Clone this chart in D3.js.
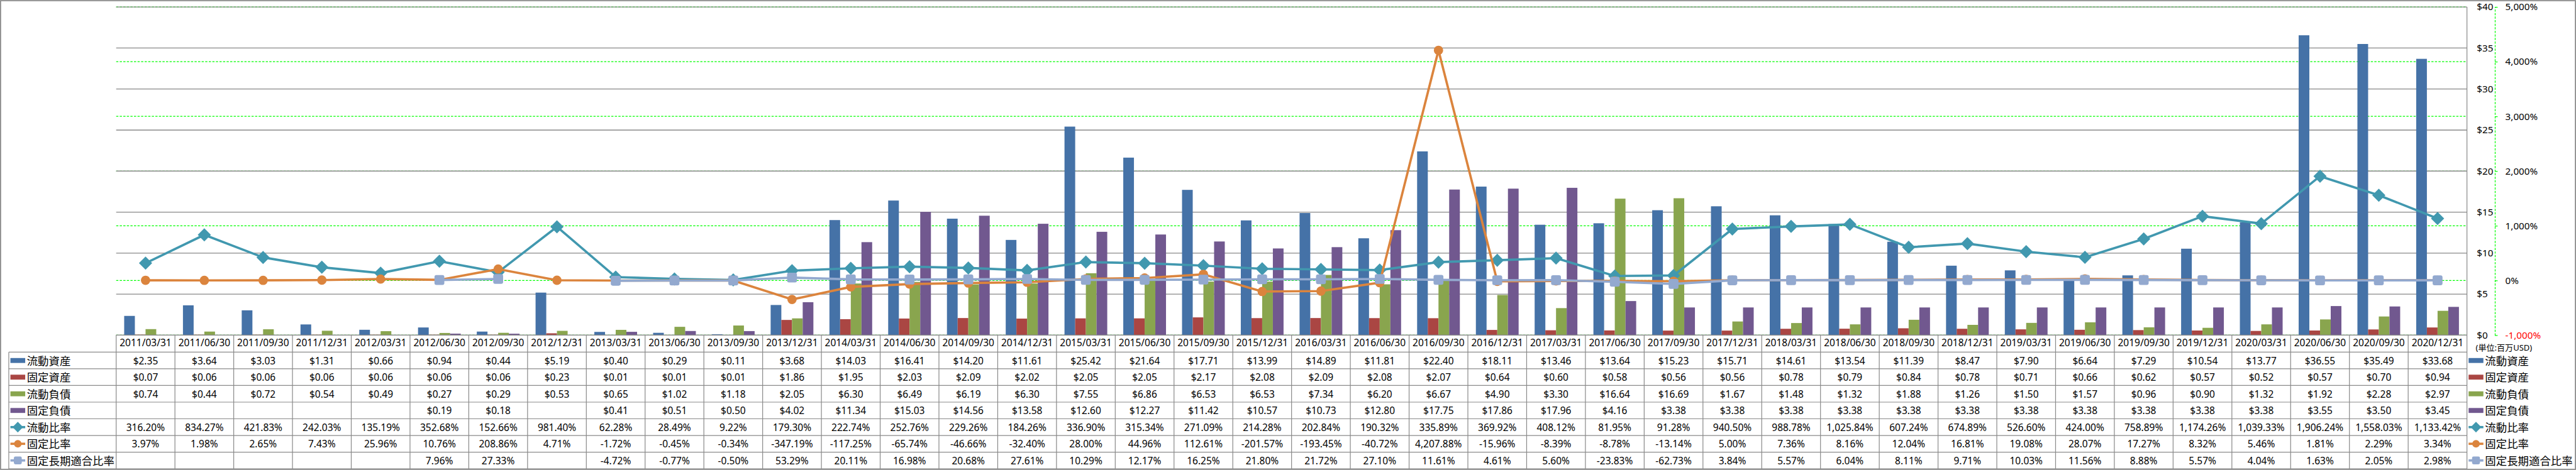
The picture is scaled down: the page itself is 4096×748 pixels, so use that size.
<!DOCTYPE html>
<html><head><meta charset="utf-8">
<script src="https://cdn.jsdelivr.net/npm/d3@7"></script>
<style>html,body{margin:0;padding:0;background:#fff;overflow:hidden}</style>
</head><body>
<svg id="chart"></svg>
<script>
const categories = ["2011/03/31","2011/06/30","2011/09/30","2011/12/31","2012/03/31","2012/06/30","2012/09/30","2012/12/31",
"2013/03/31","2013/06/30","2013/09/30","2013/12/31","2014/03/31","2014/06/30","2014/09/30","2014/12/31",
"2015/03/31","2015/06/30","2015/09/30","2015/12/31","2016/03/31","2016/06/30","2016/09/30","2016/12/31",
"2017/03/31","2017/06/30","2017/09/30","2017/12/31","2018/03/31","2018/06/30","2018/09/30","2018/12/31",
"2019/03/31","2019/06/30","2019/09/30","2019/12/31","2020/03/31","2020/06/30","2020/09/30","2020/12/31"];
const currentAssets = [2.35,3.64,3.03,1.31,0.66,0.94,0.44,5.19,0.40,0.29,0.11,3.68,14.03,16.41,14.20,11.61,25.42,21.64,17.71,13.99,14.89,11.81,22.40,18.11,13.46,13.64,15.23,15.71,14.61,13.54,11.39,8.47,7.90,6.64,7.29,10.54,13.77,36.55,35.49,33.68];
const fixedAssets = [0.07,0.06,0.06,0.06,0.06,0.06,0.06,0.23,0.01,0.01,0.01,1.86,1.95,2.03,2.09,2.02,2.05,2.05,2.17,2.08,2.09,2.08,2.07,0.64,0.60,0.58,0.56,0.56,0.78,0.79,0.84,0.78,0.71,0.66,0.62,0.57,0.52,0.57,0.70,0.94];
const currentLiabilities = [0.74,0.44,0.72,0.54,0.49,0.27,0.29,0.53,0.65,1.02,1.18,2.05,6.30,6.49,6.19,6.30,7.55,6.86,6.53,6.53,7.34,6.20,6.67,4.90,3.30,16.64,16.69,1.67,1.48,1.32,1.88,1.26,1.50,1.57,0.96,0.90,1.32,1.92,2.28,2.97];
const fixedLiabilities = [null,null,null,null,null,0.19,0.18,null,0.41,0.51,0.50,4.02,11.34,15.03,14.56,13.58,12.60,12.27,11.42,10.57,10.73,12.80,17.75,17.86,17.96,4.16,3.38,3.38,3.38,3.38,3.38,3.38,3.38,3.38,3.38,3.38,3.38,3.55,3.50,3.45];
const currentRatio = [316.20,834.27,421.83,242.03,135.19,352.68,152.66,981.40,62.28,28.49,9.22,179.30,222.74,252.76,229.26,184.26,336.90,315.34,271.09,214.28,202.84,190.32,335.89,369.92,408.12,81.95,91.28,940.50,988.78,1025.84,607.24,674.89,526.60,424.00,758.89,1174.26,1039.33,1906.24,1558.03,1133.42];
const fixedRatio = [3.97,1.98,2.65,7.43,25.96,10.76,208.86,4.71,-1.72,-0.45,-0.34,-347.19,-117.25,-65.74,-46.66,-32.40,28.00,44.96,112.61,-201.57,-193.45,-40.72,4207.88,-15.96,-8.39,-8.78,-13.14,5.00,7.36,8.16,12.04,16.81,19.08,28.07,17.27,8.32,5.46,1.81,2.29,3.34];
const fixedLongTermRatio = [null,null,null,null,null,7.96,27.33,null,-4.72,-0.77,-0.50,53.29,20.11,16.98,20.68,27.61,10.29,12.17,16.25,21.80,21.72,27.10,11.61,4.61,5.60,-23.83,-62.73,3.84,5.57,6.04,8.11,9.71,10.03,11.56,8.88,5.57,4.04,1.63,2.05,2.98];
const dollarTicks = [0,5,10,15,20,25,30,35,40];
const percentTicks = [-1000,0,1000,2000,3000,4000,5000];
const unitLabel = "(単位:百万USD)";

const barSeries = [
  {name:"流動資産", values:currentAssets, color:"#4572A7"},
  {name:"固定資産", values:fixedAssets, color:"#AA4643"},
  {name:"流動負債", values:currentLiabilities, color:"#89A54E"},
  {name:"固定負債", values:fixedLiabilities, color:"#71588F"}
];
const lineSeries = [
  {name:"流動比率", values:currentRatio, color:"#4198AF", marker:"diamond"},
  {name:"固定比率", values:fixedRatio, color:"#DB843D", marker:"circle"},
  {name:"固定長期適合比率", values:fixedLongTermRatio, color:"#93A9CF", marker:"square"}
];

const W = 4701, H = 858;
const FONT = "'Noto Sans','Noto Sans CJK JP',sans-serif";
const plotLeft = 212, plotRight = 4502, plotTop = 12.5, plotBottom = 612;
const tableLeft = 16, headerBottom = 643, tableBottom = 856;
const rowH = (tableBottom - headerBottom) / 7;

const loc = d3.formatLocale({decimal:".", thousands:",", grouping:[3], currency:["$",""], minus:"-"});
const fmtUSD = loc.format("$.2f");
const fmtPct = v => loc.format(",.2f")(v) + "%";
const fmtPctTick = v => loc.format(",d")(v) + "%";
const fmtUSDTick = loc.format("$d");

const svg = d3.select("#chart").attr("width", 4096).attr("height", 748)
  .attr("viewBox", `0 0 ${W} ${H}`).style("font-family", FONT);
svg.append("rect").attr("width", W).attr("height", H).attr("fill", "#fff");

const x = d3.scaleBand().domain(categories).range([plotLeft, plotRight]).padding(0);
const bw = x.bandwidth();
const gapHalf = bw * 0.75 / 5.5;
const xs = d3.scaleBand().domain(barSeries.map(s => s.name)).range([gapHalf, bw - gapHalf]).padding(0);
const yL = d3.scaleLinear().domain([0, 40]).range([plotBottom, plotTop]);
const yR = d3.scaleLinear().domain([-1000, 5000]).range([plotBottom, plotTop]);

// green dashed gridlines (secondary)
svg.append("g").selectAll("line").data(percentTicks).join("line")
  .attr("x1", plotLeft).attr("x2", plotRight)
  .attr("y1", d => yR(d)).attr("y2", d => yR(d))
  .attr("stroke", "#00FF00").attr("stroke-width", 1.4).attr("stroke-dasharray", "4,2.5");
// gray gridlines (primary)
svg.append("g").selectAll("line").data(dollarTicks).join("line")
  .attr("x1", plotLeft).attr("x2", plotRight)
  .attr("y1", d => yL(d)).attr("y2", d => yL(d))
  .attr("stroke", "#878787").attr("stroke-width", 1.5);

// bars
const barG = svg.append("g");
barSeries.forEach(s => {
  barG.append("g").selectAll("rect")
    .data(categories.map((c, i) => ({c, v: s.values[i]})).filter(d => d.v != null))
    .join("rect")
    .attr("x", d => x(d.c) + xs(s.name)).attr("width", xs.bandwidth())
    .attr("y", d => yL(d.v)).attr("height", d => yL(0) - yL(d.v))
    .attr("fill", s.color);
});

function drawMarker(g, type, cx, cy, color, k) {
  if (type === "diamond") {
    g.append("path").attr("d", d3.symbol(d3.symbolSquare, 290 * k * k)())
      .attr("transform", `translate(${cx},${cy}) rotate(45)`).attr("fill", color);
  } else if (type === "circle") {
    g.append("circle").attr("cx", cx).attr("cy", cy).attr("r", 8.5 * k).attr("fill", color);
  } else {
    const s = 18 * k;
    g.append("rect").attr("x", cx - s / 2).attr("y", cy - s / 2).attr("width", s).attr("height", s)
      .attr("rx", 3.5 * k).attr("fill", color);
  }
}

// lines
lineSeries.forEach(s => {
  const g = svg.append("g");
  const pts = categories.map((c, i) => ({c, v: s.values[i]}));
  const line = d3.line().defined(d => d.v != null)
    .x(d => x(d.c) + bw / 2).y(d => yR(d.v));
  g.append("path").attr("d", line(pts)).attr("fill", "none")
    .attr("stroke", s.color).attr("stroke-width", 4.2).attr("stroke-linejoin", "round");
  pts.filter(d => d.v != null).forEach(d => drawMarker(g, s.marker, x(d.c) + bw / 2, yR(d.v), s.color, 1));
});

// table
const tbl = svg.append("g").attr("stroke", "#8a8a8a").attr("stroke-width", 1.4);
tbl.append("line").attr("x1", plotLeft).attr("x2", plotRight).attr("y1", plotBottom).attr("y2", plotBottom);
d3.range(8).forEach(i => {
  const y = headerBottom + i * rowH;
  tbl.append("line").attr("x1", tableLeft).attr("x2", plotRight).attr("y1", y).attr("y2", y);
});
tbl.append("line").attr("x1", tableLeft).attr("x2", tableLeft).attr("y1", headerBottom).attr("y2", tableBottom);
categories.forEach(c => {
  tbl.append("line").attr("x1", x(c)).attr("x2", x(c)).attr("y1", plotBottom).attr("y2", tableBottom);
});
tbl.append("line").attr("x1", plotRight).attr("x2", plotRight).attr("y1", plotTop).attr("y2", tableBottom);

// header (category axis)
const xAxis = svg.append("g").attr("transform", `translate(0,${plotBottom})`)
  .call(d3.axisBottom(x).tickSize(0).tickPadding(8));
xAxis.select(".domain").remove();
xAxis.selectAll("text").attr("font-size", 17.8).attr("font-family", FONT).attr("fill", "#000");

const allSeries = [...barSeries.map(s => ({...s, kind: "bar"})), ...lineSeries.map(s => ({...s, kind: "line"}))];
allSeries.forEach((s, r) => {
  const cy = headerBottom + (r + 0.5) * rowH;
  const g = svg.append("g");
  g.selectAll("text").data(categories.map((c, i) => ({c, v: s.values[i]})).filter(d => d.v != null))
    .join("text").attr("x", d => x(d.c) + bw / 2).attr("y", cy)
    .attr("text-anchor", "middle").attr("dominant-baseline", "central")
    .attr("font-size", 17.8).attr("fill", "#000")
    .text(d => s.kind === "bar" ? fmtUSD(d.v) : fmtPct(d.v));
  // legend cells: left (in table) and right
  [[19, 49], [4505, 4535]].forEach(([sx, tx]) => {
    if (s.kind === "bar") {
      g.append("rect").attr("x", sx).attr("y", cy - 4.5).attr("width", 27).attr("height", 9).attr("fill", s.color);
    } else {
      g.append("line").attr("x1", sx).attr("x2", sx + 27).attr("y1", cy).attr("y2", cy)
        .attr("stroke", s.color).attr("stroke-width", 4.2);
      drawMarker(g, s.marker, sx + 13.5, cy, s.color, 0.8);
    }
    g.append("text").attr("x", tx).attr("y", cy).attr("dominant-baseline", "central")
      .attr("font-size", 20).attr("fill", "#000").text(s.name);
  });
});

// right axes
const axL = svg.append("g").attr("transform", `translate(4520,0)`)
  .call(d3.axisRight(yL).tickValues(dollarTicks).tickSize(0).tickPadding(0).tickFormat(fmtUSDTick));
axL.select(".domain").remove();
axL.selectAll("text").attr("font-size", 17.5).attr("font-family", FONT).attr("fill", "#000");

const axR = svg.append("g").attr("transform", `translate(4553,0)`)
  .call(d3.axisRight(yR).tickValues(percentTicks).tickSizeInner(5).tickSizeOuter(0).tickPadding(14).tickFormat(fmtPctTick));
axR.select(".domain").attr("stroke", "#00FF00").attr("stroke-width", 1.4).attr("stroke-dasharray", "4,2.5");
axR.selectAll(".tick line").attr("stroke", "#00FF00").attr("stroke-width", 1.4);
axR.selectAll("text").attr("font-size", 17.5).attr("font-family", FONT)
  .attr("fill", d => d < 0 ? "#FF0000" : "#000");

svg.append("text").attr("x", 4518).attr("y", 634).attr("dominant-baseline", "central")
  .attr("font-size", 15).attr("fill", "#000").text(unitLabel);

// outer border
svg.append("rect").attr("x", 1).attr("y", 1).attr("width", W - 2).attr("height", H - 2)
  .attr("fill", "none").attr("stroke", "#8a8a8a").attr("stroke-width", 2);
</script>
</body></html>
